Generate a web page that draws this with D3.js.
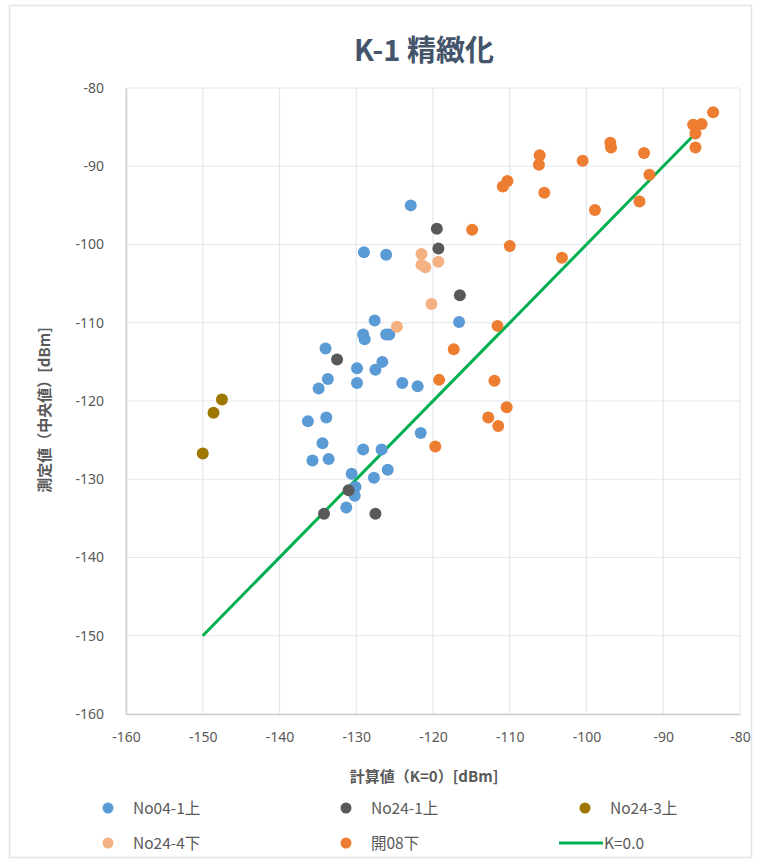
<!DOCTYPE html>
<html>
<head>
<meta charset="utf-8">
<script src="https://cdn.jsdelivr.net/npm/d3@7"></script>
<style>
  html, body { margin: 0; padding: 0; background: #ffffff; }
  svg { display: block; font-family: "Noto Sans CJK JP", "Noto Sans", sans-serif; }
</style>
</head>
<body>
<svg id="chart" width="757" height="861"></svg>
<script>
// ---- data ----
const title = "K-1 精緻化";
const xTitle = "計算値（K=0）[dBm]";
const yTitle = "測定値（中央値）[dBm]";
const xTicks = [-160, -150, -140, -130, -120, -110, -100, -90, -80];
const yTicks = [-80, -90, -100, -110, -120, -130, -140, -150, -160];

const seriesNames = ["No04-1上", "No24-1上", "No24-3上", "No24-4下", "開08下"];
const seriesColors = ["#5B9BD5", "#595959", "#9E7700", "#F4B183", "#ED7D31"];

const no04_1_x = [-122.9, -129.0, -126.1, -127.6, -129.1, -128.9, -126.1, -125.7, -134.0, -129.9, -127.5, -126.6, -133.7, -134.9, -129.9, -124.0, -122.0, -136.3, -133.9, -121.6, -134.4, -135.7, -133.6, -129.1, -126.7, -125.9, -127.7, -130.6, -130.1, -130.2, -131.3, -116.6];
const no04_1_y = [-95.0, -101.0, -101.3, -109.7, -111.5, -112.1, -111.5, -111.5, -113.3, -115.8, -116.0, -115.0, -117.2, -118.4, -117.7, -117.7, -118.1, -122.6, -122.1, -124.1, -125.4, -127.6, -127.4, -126.2, -126.2, -128.8, -129.8, -129.3, -131.0, -132.1, -133.6, -109.9];

const no24_1_x = [-119.5, -119.3, -116.5, -132.5, -131.0, -134.2, -127.5];
const no24_1_y = [-98.0, -100.5, -106.5, -114.7, -131.4, -134.4, -134.4];

const no24_3_x = [-147.5, -148.6, -150.0];
const no24_3_y = [-119.8, -121.5, -126.7];

const no24_4_x = [-121.5, -121.5, -121.0, -119.3, -120.2, -124.7];
const no24_4_y = [-101.2, -102.6, -102.9, -102.2, -107.6, -110.5];

const kai08_x = [-83.5, -86.1, -85.0, -85.8, -85.8, -96.9, -96.8, -92.5, -91.8, -100.5, -106.1, -106.2, -110.3, -110.9, -105.5, -93.1, -98.9, -114.9, -110.0, -103.2, -111.6, -117.3, -119.2, -112.0, -110.4, -112.8, -111.5, -119.7];
const kai08_y = [-83.1, -84.7, -84.6, -85.8, -87.6, -87.0, -87.6, -88.3, -91.1, -89.3, -88.6, -89.8, -91.9, -92.6, -93.4, -94.5, -95.6, -98.1, -100.2, -101.7, -110.4, -113.4, -117.3, -117.4, -120.8, -122.1, -123.2, -125.8];

const lineName = "K=0.0";
const lineX = [-150, -86.2];
const lineY = [-150, -86.2];

// ---- drawing ----
const svg = d3.select("#chart");
const plot = { left: 126, right: 740, top: 88, bottom: 714 };

svg.append("rect").attr("x", 9.5).attr("y", 5.5).attr("width", 742).attr("height", 852)
  .attr("fill", "#fff").attr("stroke", "#dfe4ec").attr("stroke-width", 1.5);

const x = d3.scaleLinear().domain([-160, -80]).range([plot.left, plot.right]);
const y = d3.scaleLinear().domain([-160, -80]).range([plot.bottom, plot.top]);

// gridlines
const grid = svg.append("g");
grid.selectAll("line.v").data(xTicks).enter().append("line")
  .attr("x1", d => x(d)).attr("x2", d => x(d))
  .attr("y1", plot.top).attr("y2", plot.bottom)
  .attr("stroke", "#e3e7ee").attr("stroke-width", 1.2);
grid.selectAll("line.h").data(yTicks).enter().append("line")
  .attr("x1", plot.left).attr("x2", plot.right)
  .attr("y1", d => y(d)).attr("y2", d => y(d))
  .attr("stroke", "#e3e7ee").attr("stroke-width", 1.2);

// axes
const fmt = d => String(d);
const xAxis = d3.axisBottom(x).tickValues(xTicks).tickSize(0).tickPadding(18).tickFormat(fmt);
const yAxis = d3.axisLeft(y).tickValues(yTicks).tickSize(0).tickPadding(22).tickFormat(fmt);
const gx = svg.append("g").attr("transform", `translate(0,${plot.bottom})`).call(xAxis);
const gy = svg.append("g").attr("transform", `translate(${plot.left},0)`).call(yAxis);
[gx, gy].forEach(g => {
  g.select(".domain").attr("stroke", "#d0d0d0").attr("stroke-width", 1.5);
  g.selectAll("text").attr("fill", "#595959").attr("font-size", 14)
    .attr("font-family", "'Noto Sans', sans-serif");
});

// K=0 line
const line = d3.line().x(d => x(d[0])).y(d => y(d[1]));
svg.append("path").datum(d3.zip(lineX, lineY)).attr("d", line)
  .attr("fill", "none").attr("stroke", "#00B050").attr("stroke-width", 3);

// scatter series
const series = [
  [no04_1_x, no04_1_y],
  [no24_1_x, no24_1_y],
  [no24_3_x, no24_3_y],
  [no24_4_x, no24_4_y],
  [kai08_x, kai08_y]
];
series.forEach((s, i) => {
  svg.append("g").selectAll("circle").data(d3.zip(s[0], s[1])).enter().append("circle")
    .attr("cx", d => x(d[0])).attr("cy", d => y(d[1])).attr("r", 6)
    .attr("fill", seriesColors[i]);
});

// titles
svg.append("text").attr("x", 424).attr("y", 61).attr("text-anchor", "middle")
  .attr("font-size", 29).attr("font-weight", "bold").attr("fill", "#44546A").text(title);
svg.append("text").attr("x", 424).attr("y", 782).attr("text-anchor", "middle")
  .attr("font-size", 15).attr("font-weight", "bold").attr("fill", "#595959").text(xTitle);
svg.append("text").attr("transform", "translate(50,410) rotate(-90)").attr("text-anchor", "middle")
  .attr("font-size", 15).attr("font-weight", "bold").attr("fill", "#595959").text(yTitle);

// legend
const legCols = [108, 346, 585];
const legRows = [808, 843];
const legendItems = seriesNames.map((n, i) => ({ name: n, color: seriesColors[i], type: "dot" }));
legendItems.push({ name: lineName, color: "#00B050", type: "line" });
legendItems.forEach((it, i) => {
  const cx = legCols[i % 3], cy = legRows[Math.floor(i / 3)];
  const g = svg.append("g");
  if (it.type === "dot") {
    g.append("circle").attr("cx", cx).attr("cy", cy).attr("r", 5.5).attr("fill", it.color);
    g.append("text").attr("x", cx + 25).attr("y", cy + 5.5).attr("font-size", 15.5)
      .attr("fill", "#595959").text(it.name);
  } else {
    g.append("line").attr("x1", cx - 26).attr("x2", cx + 18).attr("y1", cy).attr("y2", cy)
      .attr("stroke", it.color).attr("stroke-width", 3);
    g.append("text").attr("x", cx + 19).attr("y", cy + 5.5).attr("font-size", 15.5)
      .attr("fill", "#595959").text(it.name);
  }
});
</script>
</body>
</html>
